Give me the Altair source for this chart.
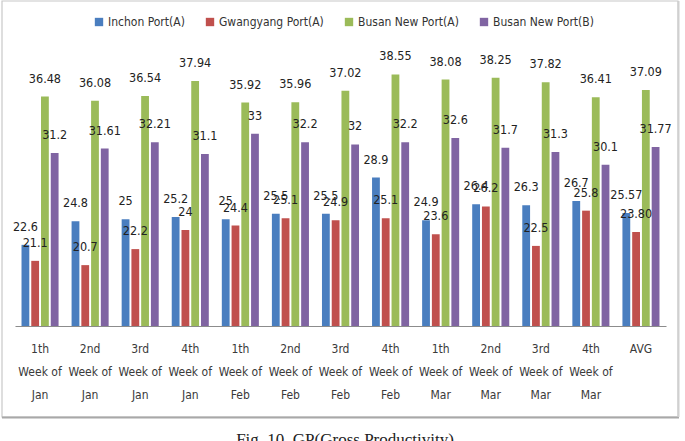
import altair as alt
import pandas as pd

# Weekly gross productivity per port (Jan-Mar) plus the period average
weeks = [
    "1th|Week of|Jan", "2nd|Week of|Jan", "3rd|Week of|Jan", "4th|Week of|Jan",
    "1th|Week of|Feb", "2nd|Week of|Feb", "3rd|Week of|Feb", "4th|Week of|Feb",
    "1th|Week of|Mar", "2nd|Week of|Mar", "3rd|Week of|Mar", "4th|Week of|Mar",
    "AVG",
]
ports = ["Inchon Port(A)", "Gwangyang Port(A)", "Busan New Port(A)", "Busan New Port(B)"]
colors = ["#4a7ebf", "#c0504d", "#9bbb59", "#8064a2"]

inchon = [22.6, 24.8, 25, 25.2, 25, 25.5, 25.5, 28.9, 24.9, 26.4, 26.3, 26.7, 25.57]
gwangyang = [21.1, 20.7, 22.2, 24, 24.4, 25.1, 24.9, 25.1, 23.6, 26.2, 22.5, 25.8, 23.80]
busan_a = [36.48, 36.08, 36.54, 37.94, 35.92, 35.96, 37.02, 38.55, 38.08, 38.25, 37.82, 36.41, 37.09]
busan_b = [31.2, 31.61, 32.21, 31.1, 33, 32.2, 32, 32.2, 32.6, 31.7, 31.3, 30.1, 31.77]

label_text = {
    "Gwangyang Port(A)": ["21.1", "20.7", "22.2", "24", "24.4", "25.1", "24.9", "25.1",
                          "23.6", "26.2", "22.5", "25.8", "23.80"],
}

rows = []
for port, series in zip(ports, [inchon, gwangyang, busan_a, busan_b]):
    for i, (w, v) in enumerate(zip(weeks, series)):
        txt = label_text[port][i] if port in label_text else f"{v:g}"
        rows.append({"week": w, "port": port, "value": v, "label": txt})
df = pd.DataFrame(rows)

FONT = "DejaVu Sans Condensed, Liberation Sans Narrow, Roboto, sans-serif"

x_enc = alt.X(
    "week:N", sort=weeks, title=None,
    scale=alt.Scale(paddingInner=0.26, paddingOuter=0.13),
    axis=alt.Axis(
        labelExpr="split(datum.value, '|')", labelAngle=0, labelFont=FONT,
        labelFontSize=12, labelColor="#3a3a3a", labelLineHeight=23,
        labelPadding=17, ticks=False, domainColor="#8c8c8c", domainWidth=1.2,
        labelBaseline="top",
    ),
)
xoff = alt.XOffset("port:N", sort=ports, scale=alt.Scale(paddingInner=0.2, paddingOuter=0))
y_enc = alt.Y("value:Q", scale=alt.Scale(domain=[15, 40], zero=False, nice=False), axis=None)

base = alt.Chart(df)

bars = base.mark_bar().encode(
    x=x_enc,
    xOffset=xoff,
    y=y_enc,
    y2=alt.datum(15),
    color=alt.Color(
        "port:N", sort=ports, scale=alt.Scale(domain=ports, range=colors),
        legend=alt.Legend(
            title=None, orient="none", legendX=78, legendY=-43, direction="horizontal",
            columns=4, symbolType="square", symbolSize=70, symbolStrokeWidth=0,
            labelFont=FONT, labelFontSize=12, labelColor="#333333",
            columnPadding=19, symbolOffset=0, labelOffset=3,
        ),
    ),
)

labels = base.mark_text(font=FONT, fontSize=12.5, color="#222222", baseline="middle", dy=-18).encode(
    x=x_enc,
    xOffset=xoff,
    y=y_enc,
    text="label:N",
)

one = pd.DataFrame({"k": [0]})
frame = alt.Chart(one).mark_rect(filled=False, stroke="#c8c8c8", strokeWidth=1.2).encode(
    x=alt.value(-13), x2=alt.value(663), y=alt.value(-58), y2=alt.value(358)
)
shadow_bottom = alt.Chart(one).mark_rule(stroke="#a8a8a8", strokeWidth=2).encode(
    x=alt.value(-13), x2=alt.value(664), y=alt.value(358.5)
)
shadow_right = alt.Chart(one).mark_rule(stroke="#d0d0d0", strokeWidth=2).encode(
    x=alt.value(663.5), y=alt.value(-58), y2=alt.value(358)
)
caption = alt.Chart(one).mark_text(
    font="Liberation Serif, Times New Roman, serif", fontSize=17, color="#222222",
    baseline="top", align="center",
).encode(x=alt.value(330), y=alt.value(373), text=alt.value("Fig. 10. GP(Gross Productivity)"))

chart = alt.layer(frame, shadow_bottom, shadow_right, bars, labels, caption).properties(
    width=651, height=267,
    padding={"left": 15, "top": 59, "right": 19, "bottom": 115},
    autosize=alt.AutoSizeParams(type="none"),
    background="white",
).configure_view(stroke=None)

chart.save("out.html", embed_options={"renderer": "svg", "actions": False})
